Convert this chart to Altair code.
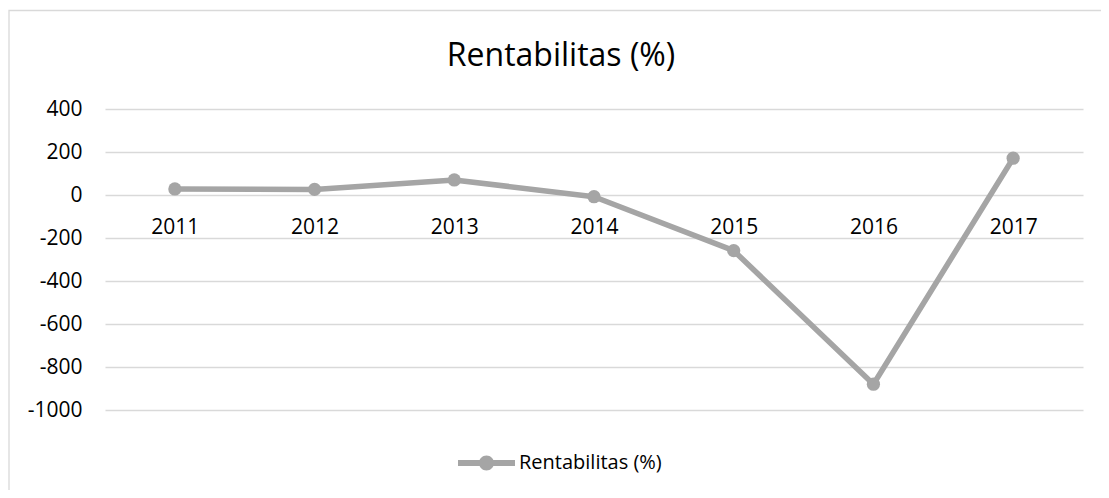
import altair as alt
import pandas as pd

years = ["2011", "2012", "2013", "2014", "2015", "2016", "2017"]
values = [28, 26, 70, -8, -259, -880, 171]
series_name = "Rentabilitas (%)"
chart_title = "Rentabilitas (%)"
y_ticks = [-1000, -800, -600, -400, -200, 0, 200, 400]

df = pd.DataFrame({"Tahun": years, "Nilai": values, "Seri": [series_name] * len(years)})

GRAY = "#A5A5A5"
GRID = "#D9D9D9"
FONT = "Open Sans"

x_enc = alt.X(
    "Tahun:O",
    sort=years,
    axis=alt.Axis(
        title=None, labelAngle=0, domain=False, ticks=False, tickSize=0, grid=False,
        offset=-215, labelPadding=38, labelBaseline="alphabetic",
        labelFont=FONT, labelFontSize=21, labelColor="black",
    ),
)
y_enc = alt.Y(
    "Nilai:Q",
    scale=alt.Scale(domain=[-1000, 400], nice=False, zero=False),
    axis=alt.Axis(
        values=y_ticks, title=None, domain=False, ticks=False, tickSize=0,
        labelPadding=23, gridColor=GRID, gridWidth=1.3,
        labelFont=FONT, labelFontSize=21, labelColor="black",
        labelExpr="'' + datum.value",
    ),
)

frame = alt.Chart(alt.Data(values=[{"k": 1}])).mark_rect(
    fill="transparent", stroke=GRID, strokeWidth=1.3
).encode(
    x=alt.value(-96), x2=alt.value(1300), y=alt.value(-98.5), y2=alt.value(700)
)

title_text = alt.Chart(alt.Data(values=[{"t": chart_title}])).mark_text(
    font=FONT, fontSize=32, color="black", align="center", baseline="alphabetic"
).encode(
    text="t:N", x=alt.value(456), y=alt.value(-43)
)

line = alt.Chart(df).mark_line(color=GRAY, strokeWidth=5.5, strokeJoin="round").encode(
    x=x_enc, y=y_enc
)

legend_path = (
    "M-1,-0.105H1V0.105H-1Z "
    "M0.263,0A0.263,0.263 0 1,1 -0.263,0A0.263,0.263 0 1,1 0.263,0Z"
)

points = alt.Chart(df).mark_circle(size=175, opacity=1).encode(
    x=x_enc,
    y=y_enc,
    color=alt.Color(
        "Seri:N",
        scale=alt.Scale(range=[GRAY]),
        legend=alt.Legend(
            title=None, orient="none", legendX=353, legendY=325.5, padding=0,
            symbolType=legend_path, symbolSize=3249, symbolStrokeWidth=0,
            symbolFillColor=GRAY, labelOffset=4,
            labelFont=FONT, labelFontSize=20, labelColor="black",
        ),
    ),
)

chart = alt.layer(frame, title_text, line, points).properties(
    width=978,
    height=301,
    padding={"left": 97, "top": 101, "right": 18, "bottom": 80},
    autosize=alt.AutoSizeParams(type="none"),
).configure_view(stroke=None)

chart.save("out.html", embed_options={"renderer": "svg", "actions": False})
